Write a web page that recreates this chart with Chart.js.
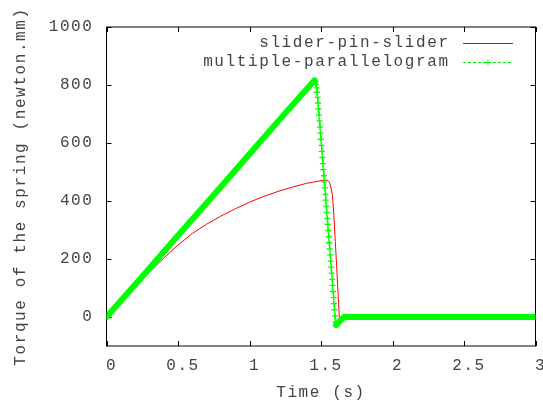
<!DOCTYPE html>
<html><head><meta charset="utf-8">
<script src="https://cdn.jsdelivr.net/npm/chart.js@4/dist/chart.umd.min.js"></script>
<style>html,body{margin:0;padding:0;background:#fff;overflow:hidden}canvas{display:block}</style>
</head><body><canvas id="c" width="543" height="404"></canvas>
<script>
const seriesNames = ['slider-pin-slider', 'multiple-parallelogram'];
const xTitle = 'Time (s)';
const yTitle = 'Torque of the spring (newton.mm)';
const xTicks = [0, 0.5, 1, 1.5, 2, 2.5, 3];
const yTicks = [0, 200, 400, 600, 800, 1000];

// slider-pin-slider (red)
const redT = [0, 0.1, 0.2, 0.3, 0.4, 0.5, 0.6, 0.7, 0.8, 0.9, 1.0, 1.1, 1.2, 1.3, 1.4, 1.5, 1.54, 1.55, 1.56, 1.57, 1.58, 1.59, 1.6, 1.61, 1.62, 1.628, 1.633, 1.64, 1.645, 2, 2.5, 3];
const redV = [0, 54, 106, 155, 203, 248, 288, 320, 348, 373, 396, 416, 433, 448, 461, 470, 472, 470, 463, 445, 420, 350, 260, 170, 75, 0, -20, -8, 0, 0, 0, 0];

// multiple-parallelogram (green): rising part, fall (individual samples), settled part
const greenRiseT = [0, 0.25, 0.5, 0.75, 1.0, 1.25, 1.455];
const greenRiseV = [0, 140, 281, 421, 562, 703, 816];
const greenDropT = [1.462, 1.465, 1.469, 1.472, 1.476, 1.479, 1.482, 1.486, 1.489, 1.493,
                    1.496, 1.499, 1.503, 1.506, 1.510, 1.513, 1.516, 1.520, 1.523, 1.527,
                    1.530, 1.533, 1.537, 1.540, 1.544, 1.547, 1.550, 1.554, 1.557, 1.561,
                    1.564, 1.567, 1.571, 1.574, 1.578, 1.581, 1.584, 1.588, 1.591, 1.595,
                    1.598, 1.601, 1.605];
const greenDropV = [812, 803, 790, 775, 757, 738, 718, 697, 676, 655,
                    634, 613, 592, 571, 550, 529, 508, 487, 466, 445,
                    424, 403, 382, 361, 340, 319, 298, 277, 256, 235,
                    214, 193, 172, 151, 130, 109, 88, 67, 46, 25,
                    4, -17, -28];
const greenFlatT = [1.635, 1.66, 2, 2.5, 3];
const greenFlatV = [-12, 0, 0, 0, 0];

const pts = (t, v) => t.map((x, i) => ({x: x, y: v[i]}));
const R = greenRiseT.length, D = greenDropT.length;
const greenData = [].concat(pts(greenRiseT, greenRiseV), pts(greenDropT, greenDropV), pts(greenFlatT, greenFlatV));
const isBand = i => i < R - 1 || i >= R + D - 1;
const isDrop = i => i >= R && i < R + D;

const FONT = {family: "'Liberation Mono', 'DejaVu Sans Mono', monospace", size: 16};
const TXT = '#444444';
const LS = 1.6;

const framePlugin = {
  id: 'frame',
  beforeDraw(chart) { chart.ctx.letterSpacing = LS + 'px'; },
  beforeDatasetsDraw(chart) {
    const {ctx, chartArea: a, scales: {x, y}} = chart;
    ctx.save();
    ctx.strokeStyle = '#000'; ctx.lineWidth = 1;
    ctx.strokeRect(a.left, a.top, a.right - a.left, a.bottom - a.top);
    const L = 5;
    ctx.beginPath();
    xTicks.forEach(v => {
      const p = Math.round(x.getPixelForValue(v)) + 0.5;
      ctx.moveTo(p, a.bottom); ctx.lineTo(p, a.bottom - L);
      ctx.moveTo(p, a.top); ctx.lineTo(p, a.top + L);
    });
    yTicks.forEach(v => {
      const p = Math.round(y.getPixelForValue(v)) + 0.5;
      ctx.moveTo(a.left, p); ctx.lineTo(a.left + L, p);
      ctx.moveTo(a.right, p); ctx.lineTo(a.right - L, p);
    });
    ctx.stroke();
    ctx.restore();
  },
  afterDraw(chart) {
    const {ctx} = chart;
    const ds = chart.data.datasets;
    ctx.save();
    ctx.letterSpacing = LS + 'px';
    ctx.font = FONT.size + 'px ' + FONT.family;
    ctx.fillStyle = TXT;
    ctx.textAlign = 'right';
    ctx.textBaseline = 'middle';
    const rows = [43, 62];
    const tx = 448 + LS, x0 = 463, x1 = 513;
    ds.forEach((d, i) => {
      const yy = rows[i];
      ctx.fillText(d.label, tx, yy);
      ctx.beginPath();
      ctx.strokeStyle = d.borderColor;
      ctx.lineWidth = 1;
      ctx.setLineDash(i === 1 ? [3, 2] : []);
      ctx.moveTo(x0, yy + 0.5); ctx.lineTo(x1, yy + 0.5);
      ctx.stroke();
      ctx.setLineDash([]);
      if (i === 1) {
        const cx = (x0 + x1) / 2;
        ctx.beginPath();
        ctx.moveTo(cx - 3, yy + 0.5); ctx.lineTo(cx + 3, yy + 0.5);
        ctx.moveTo(cx, yy - 2.5); ctx.lineTo(cx, yy + 3.5);
        ctx.stroke();
      }
    });
    ctx.restore();
  }
};

new Chart(document.getElementById('c'), {
  type: 'line',
  data: {
    datasets: [
      {
        label: seriesNames[0],
        data: pts(redT, redV),
        borderColor: '#ff0000',
        borderWidth: 1,
        pointRadius: 0,
        tension: 0,
        order: 2
      },
      {
        label: seriesNames[1],
        data: greenData,
        borderColor: '#00ff00',
        backgroundColor: '#00ff00',
        borderWidth: 1,
        tension: 0,
        borderCapStyle: 'round',
        pointStyle: 'cross',
        pointRadius: ctx => isDrop(ctx.dataIndex) ? 3 : 0,
        pointBorderWidth: 1.3,
        pointBorderColor: '#00ff00',
        segment: {
          borderWidth: ctx => isBand(ctx.p0DataIndex) ? 6 : 1,
          borderDash: ctx => isBand(ctx.p0DataIndex) ? [] : [3, 2]
        },
        order: 1
      }
    ]
  },
  options: {
    responsive: false,
    animation: false,
    devicePixelRatio: 1,
    events: [],
    layout: {padding: {top: 27, right: 7.5, bottom: 0, left: 0}},
    plugins: {legend: {display: false}, tooltip: {enabled: false}},
    scales: {
      x: {
        type: 'linear', min: 0, max: 3,
        grid: {display: false, drawTicks: false},
        border: {display: false},
        afterBuildTicks: s => { s.ticks = xTicks.map(v => ({value: v})); },
        afterFit: s => { s.height = 58; s.paddingLeft = 0; s.paddingRight = 0; },
        ticks: {padding: 10, labelOffset: 5, color: TXT, font: FONT, maxRotation: 0, autoSkip: false, callback: v => String(v)},
        title: {display: true, text: xTitle, color: TXT, font: FONT, padding: {top: 0, bottom: 1.4}}
      },
      y: {
        type: 'linear', min: -100, max: 1000,
        grid: {display: false, drawTicks: false},
        border: {display: false},
        afterBuildTicks: s => { s.ticks = yTicks.map(v => ({value: v})); },
        afterFit: s => { s.width = 106.5; s.paddingTop = 0; s.paddingBottom = 0; },
        ticks: {padding: 13, color: TXT, font: FONT, autoSkip: false, callback: v => String(v)},
        title: {display: true, text: yTitle, color: TXT, font: FONT, padding: {top: 11, bottom: 0}}
      }
    }
  },
  plugins: [framePlugin]
});
</script>
</body></html>
